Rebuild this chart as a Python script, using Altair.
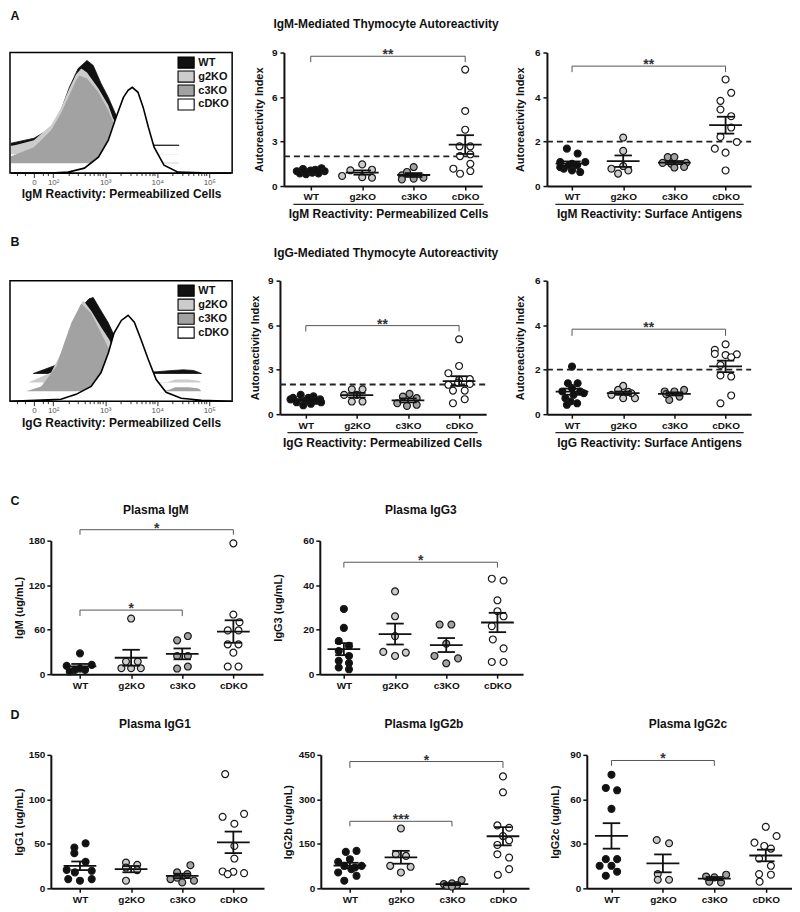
import altair as alt
import numpy as np
import pandas as pd

FONT = "Liberation Sans"
GROUPS = ["WT", "g2KO", "c3KO", "cDKO"]
DOT_FILL = ["#111111", "#cccccc", "#8e8e8e", "#ffffff"]
HIST_FILL = ["#111111", "#cccccc", "#a2a2a2", "#ffffff"]

# ---------------- histogram data (x: log10 fluorescence, y: relative events) ----------------
hist_base = {"WT": 23, "g2KO": 15.6, "c3KO": 8.2, "cDKO": 0}
hist_ticks = [1.63, 2, 3, 4, 5]
hist_tick_labels = ["0", "10\u00b2", "10\u00b3", "10\u2074", "10\u2075"]
hist_minor = [1.30, 1.45, 1.80, 1.90, 2.30, 2.48, 2.60, 2.70, 2.78, 2.85, 2.90, 2.95,
              3.30, 3.48, 3.60, 3.70, 3.78, 3.85, 3.90, 3.95,
              4.30, 4.48, 4.60, 4.70, 4.78, 4.85, 4.90, 4.95]

igm_hist_x = {
    "WT":   [1.19, 1.63, 1.96, 2.15, 2.31, 2.48, 2.65, 2.77, 2.92, 3.06, 3.21, 3.40, 3.60, 3.90, 4.42],
    "g2KO": [1.19, 1.63, 1.96, 2.15, 2.31, 2.44, 2.54, 2.65, 2.87, 3.06, 3.15, 3.40, 3.69, 4.42],
    "c3KO": [1.19, 1.63, 1.96, 2.15, 2.31, 2.44, 2.50, 2.65, 2.87, 3.06, 3.21, 3.40, 3.60, 4.42],
    "cDKO": [1.19, 1.96, 2.29, 2.60, 2.87, 3.06, 3.21, 3.35, 3.44, 3.52, 3.63, 3.73, 3.83, 3.94,
             4.13, 4.40, 4.85, 5.42],
}
igm_hist_y = {
    "WT":   [24.8, 28.9, 37.2, 52, 71, 86.8, 93.4, 89.3, 74.4, 62.8, 47.9, 30, 23.5, 23.2, 23.1],
    "g2KO": [22.3, 27.3, 39.7, 53.7, 70.2, 81.8, 86.8, 83.5, 70.2, 56.2, 45.5, 27, 15.9, 15.8],
    "c3KO": [14, 21.5, 35.5, 49.6, 64.5, 76.9, 81, 78.5, 67, 52, 37, 19, 8.5, 8.5],
    "cDKO": [0, 0, 0.8, 4.1, 13.2, 27.3, 46.3, 62.8, 68.6, 71.1, 67, 54.5, 38, 21.5, 6.6, 0.8, 0.2, 0],
}
igg_hist_x = {
    "WT":   [1.62, 2.06, 2.19, 2.38, 2.54, 2.69, 2.77, 2.92, 3.06, 3.21, 3.31, 3.50, 3.80, 4.00,
             4.30, 4.50, 4.70, 4.85],
    "g2KO": [1.52, 1.96, 2.15, 2.35, 2.50, 2.58, 2.73, 2.92, 3.08, 3.21, 3.40, 3.70, 4.20, 4.35,
             4.60, 4.80, 4.85],
    "c3KO": [1.48, 1.77, 2.06, 2.21, 2.35, 2.54, 2.73, 2.92, 3.08, 3.21, 3.40, 3.70, 4.20, 4.35,
             4.60, 4.80, 4.85],
    "cDKO": [1.17, 2.15, 2.44, 2.73, 2.92, 3.06, 3.17, 3.31, 3.44, 3.56, 3.69, 3.83, 3.98, 4.17,
             4.46, 4.85, 5.42],
}
igg_hist_y = {
    "WT":   [23, 30, 38.5, 61.5, 78, 85, 86, 75, 65, 51, 48, 30, 24, 24.5, 25.5, 26, 25.5, 23],
    "g2KO": [15.6, 23.8, 40, 59, 78, 83.6, 75, 61.5, 51, 38.5, 15.6, 15.6, 16, 18, 18, 17, 15.6],
    "c3KO": [8.2, 12.3, 28.7, 48, 65, 81, 73, 56.6, 42.6, 26, 8.2, 8.2, 9, 11.5, 11.5, 10.5, 8.2],
    "cDKO": [0, 1.6, 5.7, 12.3, 23.8, 40, 56.6, 67, 71.3, 65.6, 51, 34.4, 18, 7.4, 2.5, 0.8, 0],
}

# ---------------- dot plot data: values and horizontal scatter (category units) ----------------
a_perm_vals = {"WT": [1.0, 1.15, 0.95, 1.1, 1.2, 0.85, 0.8, 0.9, 0.85, 1.0, 1.05],
               "g2KO": [0.68, 1.06, 1.46, 1.1, 0.6, 0.56],
               "c3KO": [0.72, 1.28, 0.95, 0.5, 0.56, 0.45],
               "cDKO": [7.85, 5.06, 3.8, 2.68, 2.68, 2.02, 2.14, 1.5, 1.17, 0.83, 1.01]}
a_perm_offs = {"WT": [-0.27, -0.15, -0.03, 0.09, 0.21, -0.21, -0.09, 0.03, 0.15, 0.27, 0.0],
               "g2KO": [-0.39, -0.23, 0, 0.19, 0, 0.19],
               "c3KO": [-0.23, 0, -0.13, 0, 0.19, -0.23],
               "cDKO": [0, 0, 0, -0.11, 0.1, -0.1, 0.1, 0.1, -0.23, -0.1, 0.1]}

a_surf_vals = {"WT": [1.68, 1.46, 1.08, 1.0, 1.08, 0.78, 0.7, 0.63, 0.93, 0.93, 0.85],
               "g2KO": [2.18, 1.58, 0.78, 0.56, 0.7, 0.9],
               "c3KO": [1.3, 1.3, 1.04, 1.0, 1.04, 0.83, 0.86],
               "cDKO": [4.79, 4.19, 3.83, 3.44, 3.14, 2.63, 2.21, 1.68, 1.98, 1.5, 0.7]}
a_surf_offs = {"WT": [-0.1, 0.11, -0.23, 0, 0.26, -0.16, 0, 0.16, -0.06, 0.1, -0.23],
               "g2KO": [0, 0, -0.23, -0.1, 0.1, 0],
               "c3KO": [-0.13, 0, -0.23, -0.06, 0.23, 0, 0.19],
               "cDKO": [0, 0.11, -0.1, -0.1, 0.11, 0.11, -0.1, -0.21, 0.22, 0, 0]}

b_perm_vals = {"WT": [1.3, 1.2, 1.1, 1.0, 0.9, 0.8, 0.7, 0.6, 1.0, 0.9, 1.1, 0.8],
               "g2KO": [1.68, 1.68, 1.3, 1.3, 0.85, 0.85],
               "c3KO": [1.37, 1.19, 1.08, 0.74, 0.56, 0.63],
               "cDKO": [5.05, 3.25, 2.76, 2.36, 2.31, 1.98, 2.13, 2.04, 1.59, 1.59, 0.74, 1.01]}
b_perm_offs = {"WT": [-0.1, 0.15, -0.25, 0.28, 0.0, -0.18, 0.1, -0.05, -0.3, 0.2, 0.05, 0.3],
               "g2KO": [-0.1, 0.11, -0.25, 0, -0.1, 0.11],
               "c3KO": [0.03, -0.1, 0.17, -0.21, -0.02, 0.17],
               "cDKO": [0, 0, -0.21, 0.21, 0, -0.21, -0.02, 0.21, -0.12, 0.11, -0.12, 0.11]}

b_surf_vals = {"WT": [2.14, 1.39, 1.39, 1.02, 1.17, 1.02, 0.72, 0.57, 0.49, 0.42, 0.94, 0.87],
               "g2KO": [1.27, 1.09, 1.0, 0.87, 0.72, 0.72, 0.94],
               "c3KO": [1.02, 1.02, 1.09, 0.64, 0.79, 0.9],
               "cDKO": [3.14, 2.89, 2.71, 2.66, 2.69, 2.56, 2.21, 1.74, 1.69, 0.84, 0.49]}
b_surf_offs = {"WT": [0, -0.08, 0.11, -0.19, 0, 0.16, -0.13, -0.03, 0.1, -0.1, 0.23, 0.03],
               "g2KO": [0, -0.1, 0.1, -0.23, 0, 0.23, 0.16],
               "c3KO": [-0.19, 0, 0.19, -0.1, 0.1, -0.16],
               "cDKO": [0, -0.21, -0.21, 0, 0.22, 0.11, -0.1, -0.1, 0.11, 0.11, -0.1]}

igm_vals = {"WT": [28.1, 11.2, 12.5, 5.8, 5.8, 7.5, 3.5],
            "g2KO": [75, 17, 17, 8, 8, 8],
            "c3KO": [45.6, 51.4, 24.6, 24.6, 7.6, 10.3],
            "cDKO": [176.4, 80.4, 70.1, 59, 59, 40.2, 40.2, 29, 10.3, 10.3]}
igm_offs = {"WT": [0, -0.26, 0.23, -0.1, 0.1, 0, -0.2],
            "g2KO": [0, -0.1, 0.13, -0.19, 0, 0.19],
            "c3KO": [-0.1, 0.11, -0.1, 0.11, -0.1, 0.11],
            "cDKO": [0, 0, 0.12, -0.11, 0.1, -0.11, 0.1, 0, -0.11, 0.1]}

igg3_vals = {"WT": [29.3, 20.8, 14.9, 12.7, 10.4, 8.2, 6.0, 5.0, 3.0, 2.2],
             "g2KO": [37.2, 26, 17.1, 10, 8.2, 9.7],
             "c3KO": [22.3, 22.3, 13.7, 8.2, 7.1, 4.9],
             "cDKO": [42.9, 42.1, 33.2, 28.3, 26, 21.6, 15.6, 11.6, 5.5, 5.5]}
igg3_offs = {"WT": [0, 0, -0.1, 0.1, -0.1, 0.1, -0.1, 0.1, -0.1, 0.1],
             "g2KO": [0, 0, 0, -0.23, 0, 0.21],
             "c3KO": [-0.13, 0.1, 0, -0.23, 0.23, 0],
             "cDKO": [-0.11, 0.12, 0, 0, 0.12, -0.11, -0.09, 0.12, -0.11, 0.12]}

igg1_vals = {"WT": [50.6, 45.8, 39.5, 29.8, 20.8, 17.9, 19.7, 10.4, 8.6, 10.4],
             "g2KO": [29, 26.4, 23.4, 20.5, 8.6],
             "c3KO": [26, 17.9, 16, 10.4, 6.7, 8.6, 12],
             "cDKO": [128.4, 80.4, 83.7, 72.6, 47.6, 33.5, 19, 18.6, 17.1, 16]}
igg1_offs = {"WT": [0.11, -0.11, -0.11, 0.11, -0.26, -0.1, 0.23, -0.23, 0, 0.23],
             "g2KO": [-0.1, 0.12, -0.1, 0.12, -0.1],
             "c3KO": [0.16, -0.1, 0.1, -0.23, 0, 0.23, -0.1],
             "cDKO": [-0.16, -0.21, 0.21, 0.02, 0.02, 0.02, -0.21, 0, 0.21, -0.11]}

igg2b_vals = {"WT": [122.8, 126.2, 89.3, 98.3, 75.9, 70.3, 75.9, 53.6, 64.8, 25.7, 42.4],
              "g2KO": [202, 115, 109.4, 75.9, 72.6, 53.6],
              "c3KO": [27.9, 16.7, 14.5, 11.2, 8.9, 6],
              "cDKO": [377.4, 323.8, 212.2, 204.3, 176.4, 161.9, 146.3, 115, 103.8, 64.8, 45.8]}
igg2b_offs = {"WT": [-0.08, 0.13, -0.23, 0, -0.11, 0.1, 0.23, -0.23, 0.03, -0.11, 0.13],
              "g2KO": [0, -0.1, 0.1, -0.21, 0.19, 0],
              "c3KO": [0.19, 0, -0.16, 0.1, -0.1, 0],
              "cDKO": [0, 0, -0.11, 0.12, 0, 0.12, -0.11, -0.11, 0.12, 0.12, -0.1]}

igg2c_vals = {"WT": [76.6, 67.7, 66.1, 53.6, 19.7, 19.7, 15.2, 15.2, 11.2, 8.5],
              "g2KO": [32.6, 30.4, 9.6, 5.8, 5.8],
              "c3KO": [8, 7.4, 9.2, 4.5, 4],
              "cDKO": [41.5, 30.8, 35.3, 28.6, 26.8, 20.1, 15.2, 9.6, 9.2, 4.5]}
igg2c_offs = {"WT": [0, -0.11, 0.11, 0, -0.11, 0.11, -0.23, 0, 0.11, -0.11],
              "g2KO": [-0.12, 0.12, -0.1, -0.1, 0.12],
              "c3KO": [-0.16, 0, 0.23, -0.1, 0.13],
              "cDKO": [0, -0.22, 0.21, -0.03, 0.1, -0.13, 0.1, -0.13, 0.1, -0.12]}

# significance brackets: (from group, to group, bracket level, tick end level, label)
a_perm_br = [(0, 3, 8.75, 8.35, "**")]
a_surf_br = [(0, 3, 5.39, 5.12, "**")]
b_perm_br = [(0, 3, 5.97, 5.57, "**")]
b_surf_br = [(0, 3, 3.82, 3.52, "**")]
igm_br = [(0, 3, 194.8, 188, "*"), (0, 2, 86.4, 78.3, "*")]
igg3_br = [(0, 3, 50.3, 47.9, "*")]
igg2b_br = [(0, 3, 427.5, 406, "*"), (0, 2, 226, 209, "***")]
igg2c_br = [(0, 2, 86.2, 82.6, "*")]

MEAN_HALF = 0.32
SEM_HALF = 0.17
LABEL_EXPR = "['WT','g2KO','c3KO','cDKO'][datum.value]"


def deco_layer(view_w, title=None, title_x=0, title_y=0, letter=None, letter_x=0, letter_y=0):
    """Invisible layer whose independent axes carry the panel title and the panel letter."""
    if title:
        xax = alt.Axis(orient="top", domain=False, ticks=False, labels=False, grid=False,
                       title=title, titleX=title_x, titleY=title_y, titleAlign="center",
                       titleBaseline="alphabetic", titleAngle=0, titleFontSize=12,
                       titleFontWeight="bold", titleColor="#111")
    else:
        xax = None
    if letter:
        yax = alt.Axis(orient="right", domain=False, ticks=False, labels=False, grid=False,
                       title=letter, titleX=letter_x - view_w, titleY=letter_y, titleAlign="left",
                       titleBaseline="alphabetic", titleAngle=0, titleFontSize=12.5,
                       titleFontWeight="bold", titleColor="#111")
    else:
        yax = None
    return alt.Chart(pd.DataFrame({"u": [0.5]})).mark_point(opacity=0, size=1).encode(
        x=alt.X("u:Q", scale=alt.Scale(domain=[0, 1]), axis=xax),
        y=alt.Y("u:Q", scale=alt.Scale(domain=[0, 1]), axis=yax),
    )


def hist_chart(xs, ys, xtitle, letter, letter_y, w=223, h=121):
    rows = []
    for g in GROUPS:
        for x, y in zip(xs[g], ys[g]):
            rows.append({"s": g, "x": x, "y": y, "base": hist_base[g]})
    df = pd.DataFrame(rows)
    xscale = alt.Scale(domain=[1.17, 5.44], nice=False, zero=False)
    yscale = alt.Scale(domain=[0, 100], nice=False, zero=True)
    major_test = "indexof([" + ",".join(str(t) for t in hist_ticks) + "], datum.value) >= 0"
    label_map = "{" + ",".join("'%s': '%s'" % (t, l) for t, l in zip(hist_ticks, hist_tick_labels)) + "}"
    xaxis = alt.Axis(values=sorted(hist_ticks + hist_minor),
                     labelExpr="(" + label_map + ")[datum.value] || ''",
                     title=xtitle, titleFontSize=12, titleFontWeight="bold", titleColor="#111",
                     titlePadding=2.5, labelFontSize=8, labelColor="#555",
                     tickSize={"condition": {"test": major_test, "value": 4.5}, "value": 2.5},
                     tickColor="#333", tickWidth=1, domain=False, grid=False, labelPadding=1,
                     labelFlush=False, labelOverlap=False)
    fill_scale = alt.Scale(domain=GROUPS, range=HIST_FILL)
    layers = []
    for g in GROUPS:
        mk = {"interpolate": "linear"}
        if g == "cDKO":
            mk.update(stroke="black", strokeWidth=1.6)
        elif g == "WT":
            mk.update(stroke="#111", strokeWidth=0.8)
        layers.append(
            alt.Chart(df).transform_filter(alt.datum.s == g).mark_area(**mk).encode(
                x=alt.X("x:Q", scale=xscale, axis=xaxis),
                y=alt.Y("y:Q", scale=yscale, axis=None),
                y2="base:Q",
                fill=alt.Fill("s:N", scale=fill_scale, legend=None),
            )
        )
    # legend drawn inside the frame (top-right), one row per group
    leg = pd.DataFrame({"s": GROUPS, "row": list(range(len(GROUPS)))})
    leg_base = alt.Chart(leg).transform_calculate(
        yc="91.7 - 11.6 * datum.row", y1="91.7 - 11.6 * datum.row - 4.6",
        y2="91.7 - 11.6 * datum.row + 4.6", x1="4.40", x2="4.71", tx="4.79")
    layers.append(leg_base.mark_rect(stroke="black", strokeWidth=1.1).encode(
        x=alt.X("x1:Q", scale=xscale, axis=xaxis), x2="x2:Q",
        y=alt.Y("y1:Q", scale=yscale, axis=None), y2="y2:Q",
        fill=alt.Fill("s:N", scale=fill_scale, legend=None)))
    layers.append(leg_base.mark_text(align="left", baseline="middle", fontSize=11,
                                      fontWeight="bold", color="#111").encode(
        x=alt.X("tx:Q", scale=xscale, axis=xaxis),
        y=alt.Y("yc:Q", scale=yscale, axis=None), text="s:N"))
    main = alt.layer(*layers)
    deco = deco_layer(w, letter=letter, letter_x=0, letter_y=letter_y)
    return alt.layer(main, deco).resolve_scale(x="independent", y="independent").properties(
        width=w, height=h, view=alt.ViewBackground(stroke="black", strokeWidth=1.5))


def dot_chart(vals, offs, ymax, yticks, ytitle, plot_w, view_w, xdom, brackets=(),
              dashed=False, under=None, title=None, title_x=None, title_y=-25,
              letter=None, letter_y=-36, left_pad=0, ytitle_pad=4, label_pad=3, height=134):
    prow, srow = [], []
    for i, g in enumerate(GROUPS):
        for v, o in zip(vals[g], offs[g]):
            prow.append({"grp": g, "xpos": i + o, "val": v})
        arr = np.array(vals[g], dtype=float)
        m = arr.mean()
        s = arr.std(ddof=1) / np.sqrt(len(arr))
        srow.append({"idx": i, "m": m, "lo": m - s, "hi": m + s,
                     "a1": i - MEAN_HALF, "a2": i + MEAN_HALF,
                     "b1": i - SEM_HALF, "b2": i + SEM_HALF})
    pdf = pd.DataFrame(prow)
    sdf = pd.DataFrame(srow)

    xscale = alt.Scale(domain=xdom, range=[left_pad, left_pad + plot_w], nice=False, zero=False)
    yscale = alt.Scale(domain=[0, ymax], nice=False, zero=True)
    xaxis = alt.Axis(values=[0, 1, 2, 3], labelExpr=LABEL_EXPR, title=None, grid=False,
                     domainColor="#111", domainWidth=2, tickColor="#111", tickWidth=1.5,
                     tickSize=4, labelFontSize=10, labelFontWeight="bold", labelColor="#111",
                     labelPadding=2, labelFlush=False, labelOverlap=False)
    yaxis = alt.Axis(values=yticks, format="d", title=ytitle, titleFontSize=11,
                     titleFontWeight="bold", titleColor="#111", titlePadding=ytitle_pad,
                     grid=False, domainColor="#111", domainWidth=2, tickColor="#111",
                     tickWidth=1.5, tickSize=4, labelFontSize=10, labelFontWeight="bold",
                     labelColor="#111", labelPadding=label_pad, offset=-left_pad)

    def X(f):
        return alt.X(f, type="quantitative", scale=xscale, axis=xaxis)

    def Y(f):
        return alt.Y(f, type="quantitative", scale=yscale, axis=yaxis)

    layers = []
    if dashed:
        ddf = pd.DataFrame({"x1": [xdom[0]], "x2": [xdom[1]], "y": [2.0]})
        layers.append(alt.Chart(ddf).mark_rule(strokeDash=[6, 4], strokeWidth=1.8, color="#222")
                      .encode(x=X("x1"), x2="x2:Q", y=Y("y")))
    layers.append(alt.Chart(pdf).mark_circle(size=48, stroke="#1a1a1a", strokeWidth=1.2, opacity=1)
                  .encode(x=X("xpos"), y=Y("val"),
                          fill=alt.Fill("grp:N", scale=alt.Scale(domain=GROUPS, range=DOT_FILL),
                                        legend=None)))
    rule = dict(color="#111", strokeWidth=1.8)
    layers.append(alt.Chart(sdf).mark_rule(**rule).encode(x=X("a1"), x2="a2:Q", y=Y("m")))
    layers.append(alt.Chart(sdf).mark_rule(**rule).encode(x=X("b1"), x2="b2:Q", y=Y("hi")))
    layers.append(alt.Chart(sdf).mark_rule(**rule).encode(x=X("b1"), x2="b2:Q", y=Y("lo")))
    layers.append(alt.Chart(sdf).mark_rule(**rule).encode(x=X("idx"), y=Y("lo"), y2="hi:Q"))
    if brackets:
        bdf = pd.DataFrame([{"x1": a, "x2": b, "y": y, "yd": yd, "xm": (a + b) / 2, "lbl": l}
                            for a, b, y, yd, l in brackets])
        br = dict(color="#555", strokeWidth=1)
        layers.append(alt.Chart(bdf).mark_rule(**br).encode(x=X("x1"), x2="x2:Q", y=Y("y")))
        layers.append(alt.Chart(bdf).mark_rule(**br).encode(x=X("x1"), y=Y("y"), y2="yd:Q"))
        layers.append(alt.Chart(bdf).mark_rule(**br).encode(x=X("x2"), y=Y("y"), y2="yd:Q"))
        layers.append(alt.Chart(bdf).mark_text(fontSize=14, fontWeight="bold", color="#333",
                                               baseline="alphabetic", dy=3)
                      .encode(x=X("xm"), y=Y("y"), text="lbl:N"))
    parts = [alt.layer(*layers)]
    if under is not None:
        u0, u1, xtitle = under
        parts.append(alt.Chart(pd.DataFrame({"u": [0.0, 1.0]})).mark_point(opacity=0, size=1).encode(
            x=alt.X("u:Q", scale=alt.Scale(domain=[0, 1], range=[u0, u1]),
                    axis=alt.Axis(orient="bottom", offset=18, ticks=False, labels=False, grid=False,
                                  domainColor="#222", domainWidth=1.2, title=xtitle,
                                  titleFontSize=12, titleFontWeight="bold", titleColor="#111",
                                  titlePadding=5))))
    if title or letter:
        parts.append(deco_layer(view_w, title=title,
                                title_x=(title_x if title_x is not None else left_pad + plot_w / 2),
                                title_y=title_y, letter=letter, letter_x=0, letter_y=letter_y))
    chart = parts[0] if len(parts) == 1 else alt.layer(*parts).resolve_scale(
        x="independent", y="independent")
    return chart.properties(width=view_w, height=height)


row_a = alt.HConcatChart(hconcat=[
    hist_chart(igm_hist_x, igm_hist_y, "IgM Reactivity: Permeabilized Cells", "A", -33),
    dot_chart(a_perm_vals, a_perm_offs, 9, [0, 3, 6, 9], "Autoreactivity Index", 199, 212,
              [-0.52, 3.33], a_perm_br, dashed=True,
              under=(9, 200, "IgM Reactivity: Permeabilized Cells"),
              title="IgM-Mediated Thymocyte Autoreactivity", title_x=102, title_y=-25,
              ytitle_pad=7),
    dot_chart(a_surf_vals, a_surf_offs, 6, [0, 2, 4, 6], "Autoreactivity Index", 205, 205,
              [-0.49, 3.5], a_surf_br, dashed=True,
              under=(8, 197, "IgM Reactivity: Surface Antigens"), ytitle_pad=9),
], spacing=52, bounds="flush")

row_b = alt.HConcatChart(hconcat=[
    hist_chart(igg_hist_x, igg_hist_y, "IgG Reactivity: Permeabilized Cells", "B", -35),
    dot_chart(b_perm_vals, b_perm_offs, 9, [0, 3, 6, 9], "Autoreactivity Index", 207, 220,
              [-0.506, 3.53], b_perm_br, dashed=True,
              under=(7, 198, "IgG Reactivity: Permeabilized Cells"),
              title="IgG-Mediated Thymocyte Autoreactivity", title_x=106, title_y=-24.5,
              ytitle_pad=7),
    dot_chart(b_surf_vals, b_surf_offs, 6, [0, 2, 4, 6], "Autoreactivity Index", 205, 205,
              [-0.49, 3.5], b_surf_br, dashed=True,
              under=(8, 197, "IgG Reactivity: Surface Antigens"), ytitle_pad=9),
], spacing=48, bounds="flush")

row_c = alt.HConcatChart(hconcat=[
    dot_chart(igm_vals, igm_offs, 180, [0, 60, 120, 180], "IgM (ug/mL)", 213, 254,
              [-0.57, 3.58], igm_br, title="Plasma IgM", title_x=146, title_y=-27,
              letter="C", letter_y=-36, left_pad=41, ytitle_pad=3.5, label_pad=2),
    dot_chart(igg3_vals, igg3_offs, 60, [0, 20, 40, 60], "IgG3 (ug/mL)", 204, 204,
              [-0.47, 3.5], igg3_br, title="Plasma IgG3", title_x=101, title_y=-27,
              ytitle_pad=19, label_pad=2),
], spacing=57, bounds="flush")

row_d = alt.HConcatChart(hconcat=[
    dot_chart(igg1_vals, igg1_offs, 150, [0, 50, 100, 150], "IgG1 (ug/mL)", 214, 255,
              [-0.57, 3.6], (), title="Plasma IgG1", title_x=145, title_y=-27.5,
              letter="D", letter_y=-36.7, left_pad=41, ytitle_pad=3.5, label_pad=2),
    dot_chart(igg2b_vals, igg2b_offs, 450, [0, 150, 300, 450], "IgG2b (ug/mL)", 209, 210,
              [-0.57, 3.51], igg2b_br, title="Plasma IgG2b", title_x=103, title_y=-27.5,
              ytitle_pad=5, label_pad=2),
    dot_chart(igg2c_vals, igg2c_offs, 90, [0, 30, 60, 90], "IgG2c (ug/mL)", 206, 206,
              [-0.48, 3.51], igg2c_br, title="Plasma IgG2c", title_x=101, title_y=-27.5,
              ytitle_pad=9.6, label_pad=2),
], spacing=57, bounds="flush")

top_ab = alt.ConcatChart(concat=[row_a, row_b], columns=1, align="none", spacing=15)
top_cd = alt.ConcatChart(concat=[row_c, row_d], columns=1, align="none", spacing=18)
chart = alt.ConcatChart(concat=[top_ab, top_cd], columns=1, align="none", spacing=47,
                        padding={"left": -2, "top": -1, "right": 0, "bottom": 0})

chart = (chart.configure(font=FONT)
         .configure_view(stroke=None)
         .configure_axis(labelFont=FONT, titleFont=FONT)
         .configure_title(font=FONT)
         .configure_text(font=FONT))

chart.save("out.html", embed_options={"renderer": "svg", "actions": False})
